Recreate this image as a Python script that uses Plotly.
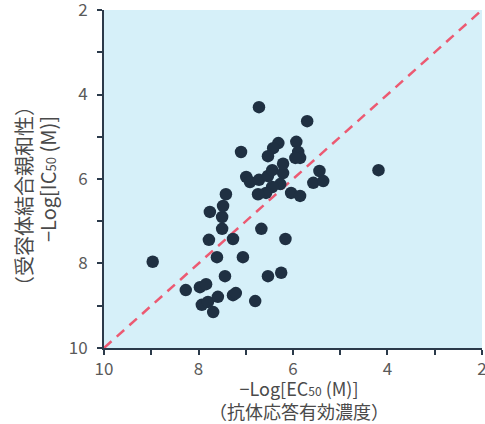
import plotly.graph_objects as go

# -Log[EC50] (x) and -Log[IC50] (y)
ec50 = [8.97, 8.27, 7.97, 7.84, 7.93, 7.80, 7.69, 7.59, 7.27, 7.21, 6.80, 7.44, 6.53,
        6.25, 7.61, 7.06, 7.78, 7.27, 6.16, 7.50, 6.67, 7.50, 7.76, 7.48, 7.42, 6.99,
        6.91, 6.72, 6.53, 6.44, 6.21, 6.21, 6.27, 6.44, 6.57, 6.74, 6.04, 5.85, 6.72,
        5.70, 6.31, 6.42, 6.53, 7.10, 5.93, 5.89, 5.85, 5.95, 5.44, 5.57, 5.36, 4.19]
ic50 = [7.96, 8.63, 8.56, 8.49, 8.98, 8.91, 9.15, 8.79, 8.75, 8.70, 8.89, 8.30, 8.30,
        8.22, 7.85, 7.85, 7.44, 7.42, 7.42, 7.18, 7.18, 6.90, 6.78, 6.64, 6.36, 5.95,
        6.07, 6.02, 5.93, 5.79, 5.86, 5.64, 6.12, 6.19, 6.33, 6.36, 6.33, 6.40, 4.30,
        4.63, 5.15, 5.27, 5.46, 5.36, 5.12, 5.36, 5.50, 5.50, 5.81, 6.09, 6.05, 5.79]
diag = [10, 2]
tick_vals = [10, 8, 6, 4, 2]
tick_text = ["10", "8", "6", "4", "2"]

FONT = "Noto Sans CJK JP"
AXIS = "#2b3a4a"
TXT = "#4a4a4a"

fig = go.Figure()
fig.add_trace(go.Scatter(x=diag, y=diag, mode="lines",
                         line=dict(color="#ec5a72", width=2.5, dash="10px,7px"),
                         hoverinfo="skip", showlegend=False))
fig.add_trace(go.Scatter(x=ec50, y=ic50, mode="markers",
                         marker=dict(size=12.5, color="#1f3042", line=dict(width=0)),
                         showlegend=False))

axis_common = dict(
    showgrid=False, zeroline=False, showline=True, linecolor=AXIS, linewidth=2,
    ticks="outside", ticklen=5, tickwidth=2, tickcolor=AXIS, automargin=False,
    tickvals=tick_vals, ticktext=tick_text, ticklabeloverflow="allow",
    tickfont=dict(family=FONT, size=17, color="#5a5a5a"),
    minor=dict(dtick=1, ticks="outside", ticklen=5, tickwidth=2, tickcolor=AXIS, showgrid=False),
)
fig.update_xaxes(range=[10.001, 1.999], ticklabelstandoff=0, **axis_common)
fig.update_yaxes(range=[10.001, 1.999], ticklabelstandoff=6, **axis_common)

fig.update_layout(
    width=485, height=424,
    margin=dict(l=104, r=3, t=10, b=76),
    paper_bgcolor="white", plot_bgcolor="#d6f0f9",
    font=dict(family=FONT, color=TXT),
    annotations=[
        dict(text="−Log[EC<span style='font-size:12px'>50</span> (M)]<br>（抗体応答有効濃度）",
             xref="paper", yref="paper",
             x=(299 - 104) / 378, y=(348 - 400) / 338, xanchor="center", yanchor="middle",
             showarrow=False, font=dict(family=FONT, size=18, color=TXT)),
        dict(text="（受容体結合親和性）", xref="paper", yref="paper", textangle=-90,
             x=(24 - 104) / 378, y=(348 - 196) / 338, xanchor="center", yanchor="middle",
             showarrow=False, font=dict(family=FONT, size=20, color=TXT)),
        dict(text="−Log[IC<span style='font-size:13px'>50</span> (M)]", xref="paper", yref="paper", textangle=-90,
             x=(47 - 104) / 378, y=(348 - 179) / 338, xanchor="center", yanchor="middle",
             showarrow=False, font=dict(family=FONT, size=20, color=TXT)),
    ],
)

fig.write_html("out.html")
